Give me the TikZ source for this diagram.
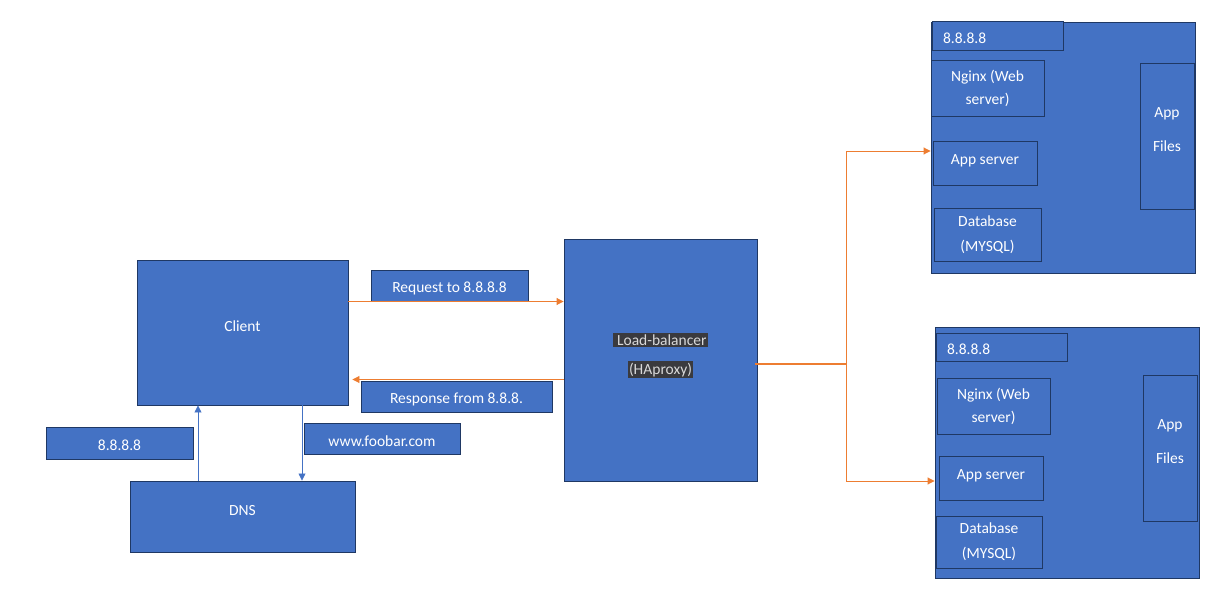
\documentclass[tikz,border=0pt]{standalone}
\usepackage{fontspec}
\setmainfont{Carlito}
\usetikzlibrary{arrows.meta}
\definecolor{boxblue}{HTML}{4472C4}
\definecolor{boxline}{HTML}{1F3864}
\definecolor{reqorange}{HTML}{ED7D31}
\definecolor{hlgray}{HTML}{3A3A3E}
\definecolor{hltext}{HTML}{D9D9D9}
\setlength{\fboxsep}{1.5pt}

\begin{document}
\begin{tikzpicture}[x=1pt, y=-1pt,
    box/.style={draw=boxline, fill=boxblue, text=white, line width=0.9pt,
                inner sep=0pt, align=center, font=\fontsize{15.5}{23}\selectfont},
    tag/.style={box, text height=16pt},
    sz/.style 2 args={minimum width=#1, minimum height=#2},
    lifted/.style={text depth=#1},
    iplbl/.style={tag, text width=109, inner xsep=11, align=left},
    flow/.style={draw=reqorange, line width=0.9pt, -{Triangle[length=7pt,width=7pt]}},
    query/.style={draw=boxblue, line width=0.8pt, -{Triangle[length=7pt,width=7pt]}}]
  \useasboundingbox (0,0) rectangle (1218,601);

  \node[box, sz={211}{145}, lifted=12] (client) at (242.5,332.5) {Client};
  \node[box, sz={225}{71}, lifted=12] (dns) at (242.5,516.5) {DNS};
  \node[tag, sz={147}{32}] (dnsip) at (119.5,443) {8.8.8.8};
  \node[tag, sz={156}{31}] (www) at (382,438.5) {www.foobar.com};
  \node[tag, sz={157}{31}] (req) at (449.5,285.5) {Request to 8.8.8.8};
  \node[tag, sz={191}{31}] (resp) at (456.5,396.5) {Response from 8.8.8.};
  \node[box, sz={193}{242}, lifted=13] (lb) at (660.5,360)
    {\colorbox{hlgray}{\textcolor{hltext}{\,Load-balancer}}\\[6pt]
     \colorbox{hlgray}{\textcolor{hltext}{(HAproxy)}}};

  \node[box, sz={264}{251}] (srvA) at (1063,147.5) {};
  \node[iplbl, minimum height=29] (srvAip) at (997.5,35.5) {8.8.8.8};
  \node[box, sz={113}{56}] (srvAweb) at (987.5,88) {Nginx (Web\\server)};
  \node[tag, sz={104}{44}, lifted=13] (srvAapp) at (985,163) {App server};
  \node[box, sz={107}{53}] (srvAdb) at (987.5,234.5) {Database\\\raisebox{-2pt}{(MYSQL)}};
  \node[box, sz={54}{146}, lifted=12] (srvAfiles) at (1167,136) {App\\[11pt]Files};

  \node[box, sz={264}{251}] (srvB) at (1067,452.5) {};
  \node[iplbl, minimum height=28] (srvBip) at (1001.5,347) {8.8.8.8};
  \node[box, sz={113}{56}] (srvBweb) at (993.5,406) {Nginx (Web\\server)};
  \node[tag, sz={104}{44}, lifted=13] (srvBapp) at (991,478) {App server};
  \node[box, sz={106}{52}] (srvBdb) at (989,542) {Database\\\raisebox{-2pt}{(MYSQL)}};
  \node[box, sz={54}{146}, lifted=12] (srvBfiles) at (1170,448) {App\\[11pt]Files};

  \draw[flow] ([yshift=31]client.east) -- ([yshift=31]client.east -| lb.west);
  \coordinate (respEnd) at ([xshift=4,yshift=-47]client.east);
  \draw[flow] (lb.west |- respEnd) -- (respEnd);

  \draw[draw=reqorange, line width=1.6pt] ([xshift=-2,yshift=-4]lb.east) -- ++(91,0) coordinate (split);
  \draw[flow] (split) |- ([yshift=12]srvAapp.west -| srvA.west);
  \draw[flow] (split) |- ([yshift=-3]srvBapp.west -| srvB.west);

  \draw[query] ([xshift=-44.5]dns.north) -- ([xshift=-44.5]dns.north |- client.south);
  \draw[query] ([xshift=59.5]client.south) -- ([xshift=59.5]client.south |- dns.north);
\end{tikzpicture}
\end{document}
